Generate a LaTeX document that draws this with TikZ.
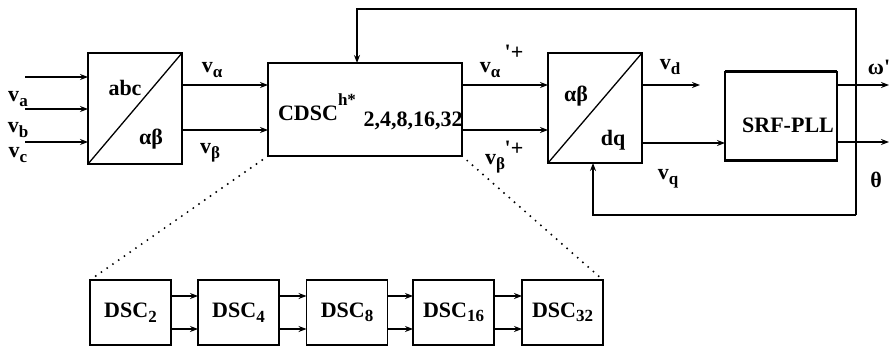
\documentclass[tikz,border=0pt]{standalone}
\usepackage{fontspec}
\setmainfont{Liberation Serif}[BoldFont={Liberation Serif Bold}]
\usetikzlibrary{arrows.meta}
\newcommand\lsub[1]{\raisebox{-0.45ex}{\fontsize{17}{17}\selectfont #1}}
\begin{document}
\begin{tikzpicture}[x=1pt,y=-1pt,
  font=\fontsize{22}{26}\selectfont\bfseries,
  blk/.style={draw, line width=1.4pt, inner sep=0pt, outer sep=0pt},
  dscbox/.style={blk, minimum width=81pt, minimum height=65pt},
  lbl/.style={inner sep=0pt},
  conn/.style={line width=1.3pt, -{Stealth[length=8pt,width=6pt]}},
  wire/.style={line width=1.3pt},
  dots/.style={line width=2.2pt, line cap=round, dash pattern=on 0pt off 7pt}]
\useasboundingbox (0,0) rectangle (890,347);
% main blocks
\node[blk, minimum width=94pt, minimum height=111pt] (abc) at (135,108.5) {};
\node[blk, minimum width=194pt, minimum height=93pt] (cdsc) at (365,109.5) {};
\node[blk, minimum width=94pt, minimum height=110pt] (dq) at (595,108) {};
\node[blk, minimum width=112pt, minimum height=89pt] (pll) at (781,116.5) {};
\node[lbl] (tpll) at (788,125) {SRF-PLL};
\draw[line width=3pt] (pll.north west) -- (pll.north east);
\draw[line width=3pt] (pll.south west) -- (pll.south east);
\draw[wire] (abc.south west) -- (abc.north east);
\draw[wire] (dq.south west) -- (dq.north east);
% block texts
\node[lbl] (tabc) at (125,88) {abc};
\node[lbl] (tab1) at (151,139) {αβ};
\node[lbl] (tab2) at (576,96) {αβ};
\node[lbl] (tdq) at (613,140) {dq};
\node[lbl] (tcd) at (308,113) {CDSC};
\node[lbl, font=\fontsize{17}{17}\selectfont\bfseries] (th) at (347,100) {h*};
\node[lbl] (tsub) at (413,121) {2,4,8,16,32};
% inputs
\coordinate (ia) at (25,77);
\coordinate (ib) at (25,109);
\coordinate (ic) at (25,142);
\draw[conn] (ia) -- (abc.west |- ia);
\draw[conn] (ib) -- (abc.west |- ib);
\draw[conn] (ic) -- (abc.west |- ic);
\node[lbl] (va) at (18,99) {v\lsub{a}};
\node[lbl] (vb) at (18,130) {v\lsub{b}};
\node[lbl] (vc) at (18,155) {v\lsub{c}};
% abc -> cdsc
\coordinate (y1) at (0,85);
\coordinate (y2) at (0,130);
\draw[conn] (abc.east |- y1) -- (cdsc.west |- y1);
\draw[conn] (abc.east |- y2) -- (cdsc.west |- y2);
\node[lbl] (lva) at (212,70) {v\lsub{α}};
\node[lbl] (lvb) at (210,153) {v\lsub{β}};
% cdsc -> dq
\draw[conn] (cdsc.east |- y1) -- (dq.west |- y1);
\draw[conn] (cdsc.east |- y2) -- (dq.west |- y2);
\node[lbl] (lva2) at (490,70) {v\lsub{α}};
\node[lbl] (pa) at (514,52) {\textquotesingle+};
\node[lbl] (lvb2) at (495,164) {v\lsub{β}};
\node[lbl] (pb) at (514,148) {\textquotesingle+};
% dq -> pll
\coordinate (vdend) at (700,85);
\draw[conn] (dq.east |- vdend) -- (vdend);
\coordinate (y3) at (0,143);
\draw[conn] (dq.east |- y3) -- (pll.west |- y3);
\node[lbl] (lvd) at (670,67) {v\lsub{d}};
\node[lbl] (lvq) at (668,179) {v\lsub{q}};
% pll outputs
\coordinate (oa) at (889,85);
\coordinate (ob) at (889,142);
\draw[conn] (pll.east |- oa) -- (oa);
\draw[conn] (pll.east |- ob) -- (ob);
\node[lbl] (lw) at (879,67) {ω\textquotesingle};
\node[lbl] (lt) at (876,180) {θ};
% feedback
\coordinate (f1) at (856,9);
\coordinate (f2) at (856,215);
\coordinate (f3) at (593,215);
\coordinate (f4) at (357,9);
\draw[conn] (f2) -- (f1) -- (f4) -- (f4 |- cdsc.north);
\draw[conn] (f2) -- (f3) -- (f3 |- dq.south);
% DSC chain
\node[dscbox] (d2) at (130.5,312.5) {DSC\lsub{2}};
\node[dscbox] (d4) at (238.5,312.5) {DSC\lsub{4}};
\node[dscbox] (d8) at (347,312.5) {DSC\lsub{8}};
\node[dscbox] (d16) at (453.5,312.5) {DSC\lsub{16}};
\node[dscbox] (d32) at (562.5,312.5) {DSC\lsub{32}};
\coordinate (y4) at (0,296);
\coordinate (y5) at (0,329);
\foreach \a/\b in {d2/d4,d4/d8,d8/d16,d16/d32}{
  \draw[conn] (\a.east |- y4) -- (\b.west |- y4);
  \draw[conn] (\a.east |- y5) -- (\b.west |- y5);
}
\draw[dots] (cdsc.south west) -- (d2.north west);
\draw[dots] (cdsc.south east) -- (d32.north east);
\end{tikzpicture}
\end{document}
